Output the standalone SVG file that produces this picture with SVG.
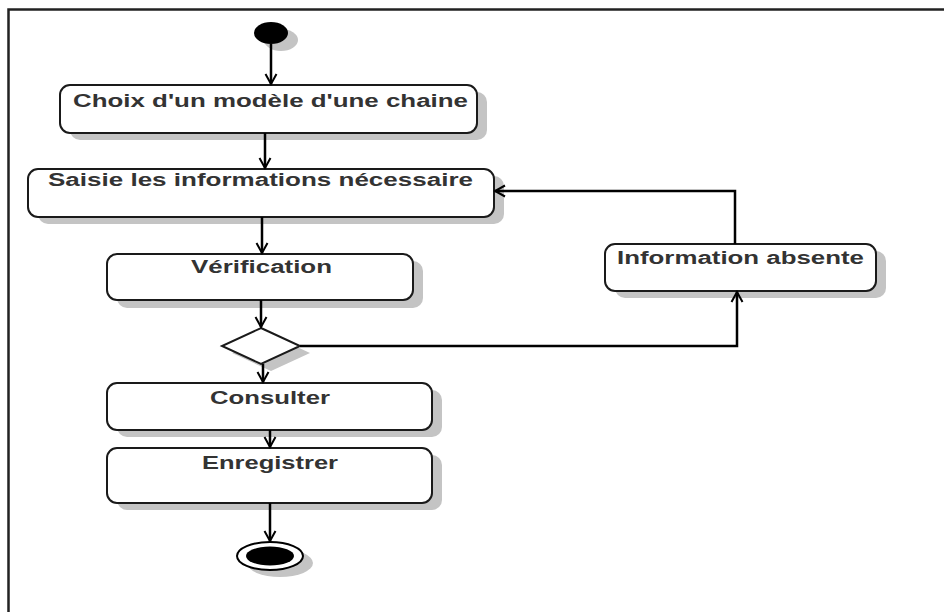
<svg xmlns="http://www.w3.org/2000/svg" width="944" height="612" viewBox="0 0 944 612">
<defs>
<style>
.sh{fill:#c4c4c4;stroke:none}
.box{fill:#fff;stroke:#1a1a1a;stroke-width:2}
.lbl{font-family:"Liberation Sans",Arial,sans-serif;font-weight:bold;font-size:18px;fill:#333;text-anchor:middle}
.ln{fill:none;stroke:#000;stroke-width:2.5}
</style>
<marker id="arr" markerWidth="14" markerHeight="14" viewBox="0 0 14 14" refX="12" refY="7" orient="auto" markerUnits="userSpaceOnUse">
<path d="M2,1.5 L12,7 L2,12.5" fill="none" stroke="#000" stroke-width="2"/>
</marker>
</defs>
<rect width="944" height="612" fill="#fff"/>
<path d="M8.5,612 L8.5,9.5 L944,9.5" fill="none" stroke="#222" stroke-width="2.5"/>

<g id="start">
<ellipse class="sh" cx="281" cy="40" rx="17" ry="11"/>
<ellipse cx="271" cy="33" rx="17" ry="11" fill="#000"/>
</g>

<g id="choix">
<rect class="sh" x="70" y="92" width="417" height="48" rx="10"/>
<rect class="box" x="60" y="85" width="417" height="48" rx="10"/>
<text class="lbl" x="270.5" y="107" textLength="395" lengthAdjust="spacingAndGlyphs">Choix d'un modèle d'une chaine</text>
</g>

<g id="saisie">
<rect class="sh" x="38" y="176" width="466" height="48" rx="10"/>
<rect class="box" x="28" y="169" width="466" height="48" rx="10"/>
<text class="lbl" x="260.5" y="186" textLength="425" lengthAdjust="spacingAndGlyphs">Saisie les informations nécessaire</text>
</g>

<g id="verification">
<rect class="sh" x="117" y="261" width="306" height="47" rx="10"/>
<rect class="box" x="107" y="254" width="306" height="46" rx="10"/>
<text class="lbl" x="261.5" y="273" textLength="141" lengthAdjust="spacingAndGlyphs">Vérification</text>
</g>

<g id="info">
<rect class="sh" x="615" y="251" width="271" height="47" rx="10"/>
<rect class="box" x="605" y="244" width="271" height="47" rx="10"/>
<text class="lbl" x="740.5" y="264" textLength="247" lengthAdjust="spacingAndGlyphs">Information absente</text>
</g>

<g id="decision">
<polygon class="sh" points="271,335 310,353 271,371 232,353"/>
<polygon class="box" points="261,328 300,346 261,364 222,346"/>
</g>

<g id="consulter">
<rect class="sh" x="117" y="390" width="325" height="47" rx="10"/>
<rect class="box" x="107" y="383" width="325" height="47" rx="10"/>
<text class="lbl" x="270" y="404" textLength="120" lengthAdjust="spacingAndGlyphs">Consulter</text>
</g>

<g id="enregistrer">
<rect class="sh" x="117" y="455" width="325" height="55" rx="10"/>
<rect class="box" x="107" y="448" width="325" height="55" rx="10"/>
<text class="lbl" x="270" y="469" textLength="136" lengthAdjust="spacingAndGlyphs">Enregistrer</text>
</g>

<g id="end">
<ellipse class="sh" cx="280" cy="563" rx="33" ry="14"/>
<ellipse cx="270" cy="556" rx="33" ry="14" fill="#fff" stroke="#000" stroke-width="2"/>
<ellipse cx="270" cy="556" rx="24" ry="9.5" fill="#000"/>
</g>

<g id="connectors">
<path class="ln" d="M271,44 L271,84" marker-end="url(#arr)"/>
<path class="ln" d="M265,133 L265,168" marker-end="url(#arr)"/>
<path class="ln" d="M262,217 L262,253" marker-end="url(#arr)"/>
<path class="ln" d="M261,300 L261,327" marker-end="url(#arr)"/>
<path class="ln" d="M263,364 L263,382" marker-end="url(#arr)"/>
<path class="ln" d="M270,430 L270,447" marker-end="url(#arr)"/>
<path class="ln" d="M270,503 L270,541" marker-end="url(#arr)"/>
<path class="ln" d="M300,346 L737,346 L737,292" marker-end="url(#arr)"/>
<path class="ln" d="M735,244 L735,191 L495,191" marker-end="url(#arr)"/>
</g>
</svg>
